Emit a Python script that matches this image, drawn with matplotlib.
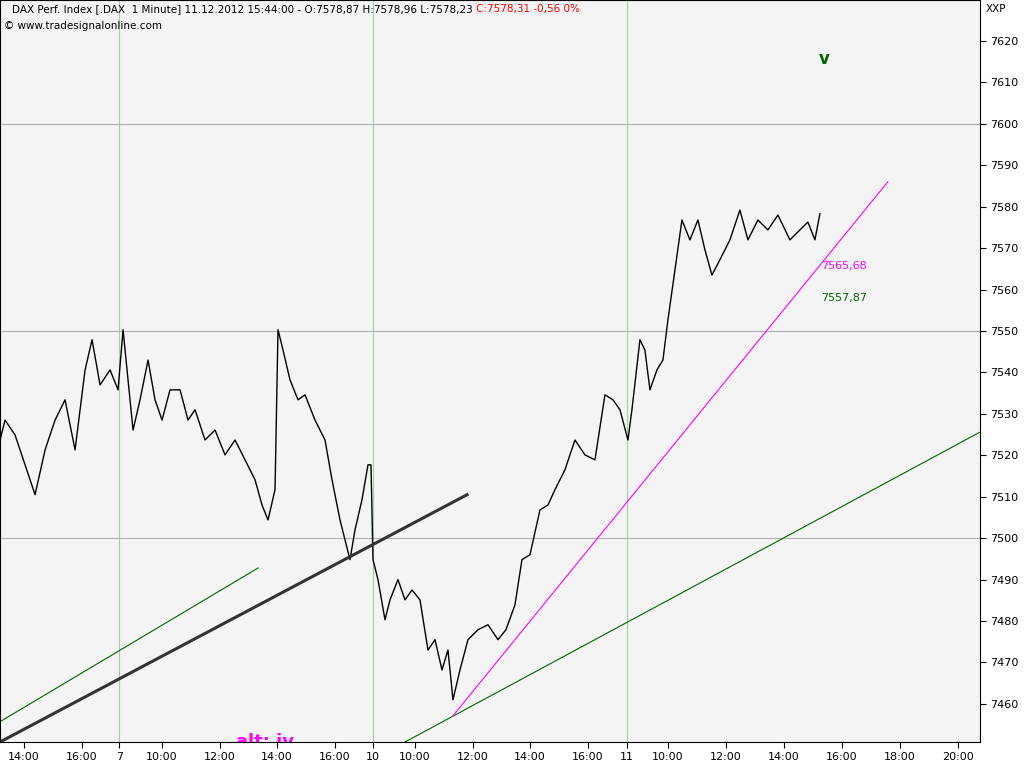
import matplotlib
matplotlib.use("Agg")
import matplotlib.pyplot as plt

px = [0,5,15,25,35,45,55,65,75,85,92,100,110,118,123,128,133,140,148,155,162,170,180,188,195,205,215,225,235,245,255,262,268,275,278,283,290,298,305,315,325,332,340,345,350,355,362,368,371,373,378,385,390,398,405,412,420,428,435,442,448,453,460,468,478,488,498,506,515,522,530,540,548,555,565,575,585,595,605,613,620,628,632,640,645,650,657,663,668,675,682,690,698,705,712,720,730,740,748,758,768,778,790,800,808,815,820]
price = [7523.7,7528.5,7524.9,7517.7,7510.5,7521.3,7528.5,7533.4,7521.3,7540.6,7547.9,7537.0,7540.6,7535.8,7550.3,7538.2,7526.1,7533.4,7543.0,7533.4,7528.5,7535.8,7535.8,7528.5,7531.0,7523.7,7526.1,7520.1,7523.7,7518.9,7514.1,7508.0,7504.4,7511.7,7550.3,7545.4,7538.2,7533.4,7534.6,7528.5,7523.7,7514.1,7504.4,7499.6,7494.8,7502.0,7509.3,7517.7,7517.7,7494.8,7490.0,7480.3,7485.1,7490.0,7485.1,7487.5,7485.1,7473.0,7475.5,7468.2,7473.0,7461.0,7468.2,7475.5,7477.9,7479.1,7475.5,7477.9,7483.9,7494.8,7496.0,7506.8,7508.0,7511.7,7516.5,7523.7,7520.1,7518.9,7534.6,7533.4,7531.0,7523.7,7531.0,7547.9,7545.4,7535.8,7540.6,7543.0,7552.7,7564.7,7576.8,7572.0,7576.8,7569.6,7563.5,7567.2,7572.0,7579.2,7572.0,7576.8,7574.4,7578.0,7572.0,7574.4,7576.3,7572.0,7578.3]
hours = [(p - 24) / 29 for p in px]

tick_pos = [0,2,3.28,4.76,6.76,8.72,10.72,12.03,13.48,15.48,17.45,19.45,20.79,22.21,24.21,26.21,28.21,30.21,32.21]
tick_lab = ["14:00","16:00","7","10:00","12:00","14:00","16:00","10","10:00","12:00","14:00","16:00","11","10:00","12:00","14:00","16:00","18:00","20:00"]
day_sep = [3.28, 12.03, 20.79]
y_ticks = list(range(7460, 7621, 10))

black_line = ([-0.83, 15.28], [7450.8, 7510.5])
green_up = ([-0.83, 8.07], [7455.7, 7492.8])
green_low = ([12.9, 32.97], [7449.9, 7525.6])
magenta = ([14.79, 29.79], [7457.1, 7586.0])

fig = plt.figure(figsize=(10.24, 7.68), dpi=100)
ax = fig.add_axes([0, 26/768, 980/1024, 742/768])
ax.set_facecolor("#f4f4f4")
ax.set_xlim(-0.83, 32.97)
ax.set_ylim(7450.8, 7629.9)
for d in day_sep:
    ax.axvline(d, color="#a8cca8", lw=0.8)
for h in [7500, 7550, 7600]:
    ax.axhline(h, color="#b0b0b0", lw=0.8)
ax.plot(hours, price, color="black", lw=1.0)
ax.plot(*black_line, color="#333333", lw=2.2)
ax.plot(*green_up, color="#006400", lw=0.8)
ax.plot(*green_low, color="#006400", lw=0.8)
ax.plot(*magenta, color="#ff00ff", lw=0.8)
ax.yaxis.tick_right()
ax.set_yticks(y_ticks)
ax.set_yticklabels([str(v) for v in y_ticks], fontsize=8)
ax.set_xticks(tick_pos)
ax.set_xticklabels(tick_lab, fontsize=8)
ax.tick_params(length=4)
ax.text(27.5, 7565.68, "7565,68", color="#ff00ff", fontsize=8, va="center")
ax.text(27.5, 7557.87, "7557,87", color="#006400", fontsize=8, va="center")
ax.text(27.4, 7615.6, "v", color="#006400", fontsize=12, fontweight="bold", va="center")
ax.text(7.3, 7453.0, "alt: iv", color="#ff00ff", fontsize=13, fontweight="bold", va="top", clip_on=True)
t1 = fig.text(0.012, 0.988, "DAX Perf. Index [.DAX  1 Minute] 11.12.2012 15:44:00 - O:7578,87 H:7578,96 L:7578,23 ", fontsize=7.5, va="center")
fig.canvas.draw()
bb = t1.get_window_extent().transformed(fig.transFigure.inverted())
fig.text(bb.x1, 0.988, "C:7578,31 -0,56 0%", color="red", fontsize=7.5, va="center")
fig.text(0.004, 0.966, "© www.tradesignalonline.com", fontsize=7.5, va="center")
fig.text(0.963, 0.988, "XXP", fontsize=7.5, va="center")
fig.savefig("out.png", dpi=100)
